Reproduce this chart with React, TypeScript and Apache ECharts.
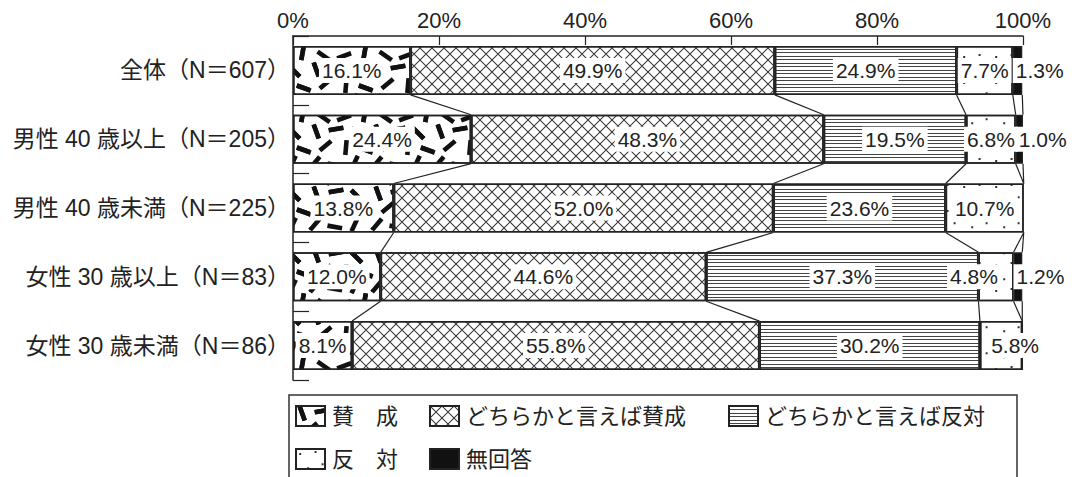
import React, { useEffect, useRef } from 'react';
import * as echarts from 'echarts';

const categories = [
  '全体（N＝607）',
  '男性 40 歳以上（N＝205）',
  '男性 40 歳未満（N＝225）',
  '女性 30 歳以上（N＝83）',
  '女性 30 歳未満（N＝86）',
];
const seriesNames = ['賛　成', 'どちらかと言えば賛成', 'どちらかと言えば反対', '反　対', '無回答'];
const agree = [16.1, 24.4, 13.8, 12.0, 8.1];
const somewhatAgree = [49.9, 48.3, 52.0, 44.6, 55.8];
const somewhatDisagree = [24.9, 19.5, 23.6, 37.3, 30.2];
const disagree = [7.7, 6.8, 10.7, 4.8, 5.8];
const noAnswer = [1.3, 1.0, 0, 1.2, 0];
const xTicks = [0, 20, 40, 60, 80, 100];

// label horizontal shifts (style only)
const labelShift = [
  [0, 0, 0, 0, 0],
  [0, 0, 0, 0, 0],
  [0, 0, 0, 0, 0],
  [0, 0, 0, -22, 14],
  [0, 0, 0, 0, 0],
];

const BAR_W = 49;
const FONT = "'Liberation Sans', Arial, 'Noto Sans CJK JP', sans-serif";

const anchors = 'M0 0 L0.6 0 L0 0.6 Z M100 100 L99.4 100 L100 99.4 Z ';

function rotRect(cx: number, cy: number, a: number, hl: number, ht: number) {
  const r = (a * Math.PI) / 180;
  const dx = Math.cos(r), dy = Math.sin(r);
  const nx = -dy, ny = dx;
  const p = [
    [cx + hl * dx + ht * nx, cy + hl * dy + ht * ny],
    [cx + hl * dx - ht * nx, cy + hl * dy - ht * ny],
    [cx - hl * dx - ht * nx, cy - hl * dy - ht * ny],
    [cx - hl * dx + ht * nx, cy - hl * dy + ht * ny],
  ];
  return 'M' + p.map((q) => q[0].toFixed(2) + ' ' + q[1].toFixed(2)).join(' L') + ' Z ';
}

// dashes in a 0..100 tile, wrapped copies so the tile repeats seamlessly
function dashPathWrapped(specs: number[][], hl: number, ht: number) {
  let d = 'M-40 -40 L-39.6 -40 L-40 -39.6 Z M140 140 L139.6 140 L140 139.6 Z ';
  for (const [x, y, a] of specs) {
    for (const ox of [-100, 0, 100]) {
      for (const oy of [-100, 0, 100]) {
        const cx = x + ox, cy = y + oy;
        if (cx > -17 && cx < 117 && cy > -17 && cy < 117) d += rotRect(cx, cy, a, hl, ht);
      }
    }
  }
  return d;
}

function dotPath(specs: number[][], w: number, h: number) {
  let d = anchors;
  for (const [x, y] of specs) {
    d += `M${x} ${y} L${x + w} ${y} L${x + w} ${y + h} L${x} ${y + h} Z `;
  }
  return d;
}

const dashSymbol =
  'path://' +
  dashPathWrapped(
    [
      [10, 12, 70],
      [42, 8, -10],
      [75, 15, 45],
      [25, 35, -40],
      [58, 38, 95],
      [90, 42, 20],
      [8, 62, 130],
      [40, 66, 10],
      [72, 62, -65],
      [22, 90, 35],
      [55, 90, -20],
      [88, 85, 100],
    ],
    12,
    3.7
  );

const crossSymbol =
  'path://M0 0 L6 0 L100 94 L100 100 L94 100 L0 6 Z M94 0 L100 0 L100 6 L6 100 L0 100 L0 94 Z';

const dotSymbol = 'path://' + dotPath([[10, 15], [58, 8], [80, 55], [35, 70]], 6.25, 7.7);

const decals: any[] = [
  {
    symbol: dashSymbol,
    symbolSize: 1.8,
    symbolKeepAspect: false,
    color: '#111',
    backgroundColor: '#fff',
    dashArrayX: [62, 0],
    dashArrayY: [62, 0],
  },
  {
    symbol: crossSymbol,
    symbolSize: 1,
    symbolKeepAspect: false,
    color: '#333',
    backgroundColor: '#fff',
    dashArrayX: [12, 0],
    dashArrayY: [12, 0],
  },
  {
    symbol: 'rect',
    symbolSize: 1,
    symbolKeepAspect: false,
    color: '#444',
    backgroundColor: '#fff',
    dashArrayX: [10, 0],
    dashArrayY: [1, 2, 1, 3],
  },
  {
    symbol: dotSymbol,
    symbolSize: 1,
    symbolKeepAspect: false,
    color: '#333',
    backgroundColor: '#fff',
    dashArrayX: [32, 0],
    dashArrayY: [26, 0],
  },
  null,
];

const allValues = [agree, somewhatAgree, somewhatDisagree, disagree, noAnswer];

export default function App() {
  const ref = useRef<HTMLDivElement>(null);

  useEffect(() => {
    document.body.style.margin = '0';
    if (!ref.current) return;
    const chart = echarts.init(ref.current, undefined, { renderer: 'svg' });

    const barSeries = allValues.map((vals, s) => ({
      name: seriesNames[s],
      type: 'bar',
      stack: 'total',
      barWidth: BAR_W,
      itemStyle: {
        color: s === 4 ? '#111' : '#fff',
        borderColor: '#222',
        borderWidth: 1.5,
        decal: decals[s] || undefined,
      },
      label: {
        show: true,
        position: s === 4 ? 'insideLeft' : 'inside',
        distance: 0,
        formatter: (p: any) => Number(p.value).toFixed(1) + '%',
        color: '#222',
        fontSize: 21,
        fontFamily: FONT,
        backgroundColor: '#fff',
        padding: [2, 3],
      },
      emphasis: { disabled: true },
      data: vals.map((v, i) => ({
        value: v,
        label: { show: v > 0, offset: [labelShift[s][i], 0] },
      })),
    }));

    // cumulative boundaries for series lines
    const lineData: number[][] = [];
    for (let i = 0; i < categories.length - 1; i++) {
      let c1 = 0, c2 = 0;
      for (let s = 0; s < allValues.length; s++) {
        c1 += allValues[s][i];
        c2 += allValues[s][i + 1];
        lineData.push([c1, i, c2]);
      }
    }

    const legendCommon = {
      padding: 0,
      itemWidth: 29,
      itemHeight: 20,
      itemGap: 0,
      icon: 'rect',
      selectedMode: false,
      textStyle: { fontSize: 22, color: '#222', fontFamily: FONT, padding: [0, 0, 0, 2] },
    };

    chart.setOption({
      animation: false,
      grid: { left: 293, right: 54, top: 36, bottom: 97, containLabel: false },
      xAxis: {
        type: 'value',
        position: 'top',
        min: 0,
        max: 100,
        interval: 20,
        axisLine: { show: true, lineStyle: { color: '#222', width: 1.5 } },
        axisTick: { show: true, inside: true, length: 9, lineStyle: { color: '#222', width: 1.2 } },
        splitLine: { show: false },
        axisLabel: {
          formatter: (v: number) => (xTicks.includes(v) ? v + '%' : ''),
          fontSize: 22,
          color: '#222',
          fontFamily: FONT,
          margin: 5,
        },
      },
      yAxis: {
        type: 'category',
        inverse: true,
        data: categories,
        axisLine: { show: true, lineStyle: { color: '#222', width: 1.5 } },
        axisTick: { show: true, inside: true, length: 16, interval: 0, lineStyle: { color: '#222', width: 1.2 } },
        axisLabel: { fontSize: 23, color: '#222', fontFamily: FONT, margin: 3 },
      },
      legend: [
        { ...legendCommon, data: [seriesNames[0]], left: 295, top: 405 },
        { ...legendCommon, data: [seriesNames[1]], left: 429, top: 405 },
        { ...legendCommon, data: [seriesNames[2]], left: 728, top: 405 },
        { ...legendCommon, data: [seriesNames[3]], left: 295, top: 448 },
        { ...legendCommon, data: [seriesNames[4]], left: 429, top: 448 },
      ],
      graphic: [
        {
          type: 'rect',
          silent: true,
          shape: { x: 289, y: 395, width: 728, height: 120 },
          style: { fill: 'none', stroke: '#333', lineWidth: 1.5 },
        },
      ],
      series: [
        ...barSeries,
        {
          type: 'custom',
          name: 'lines',
          silent: true,
          encode: { x: [0, 2], y: 1 },
          renderItem: (params: any, api: any) => {
            const p1 = api.coord([api.value(0), api.value(1)]);
            const p2 = api.coord([api.value(2), api.value(1) + 1]);
            return {
              type: 'line',
              shape: { x1: p1[0], y1: p1[1] + BAR_W / 2, x2: p2[0], y2: p2[1] - BAR_W / 2 },
              style: { stroke: '#222', lineWidth: 1.2 },
            };
          },
          data: lineData,
        },
      ],
    });

    return () => chart.dispose();
  }, []);

  return <div ref={ref} style={{ width: 1077, height: 477 }} />;
}
